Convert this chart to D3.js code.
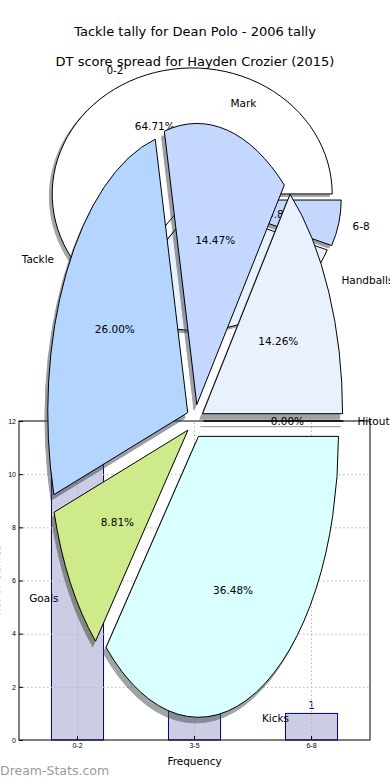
<!DOCTYPE html>
<html>
<head>
<meta charset="utf-8">
<script src="https://cdn.jsdelivr.net/npm/d3@7"></script>
<style>
  body { margin: 0; background: #fff; }
  svg { display: block; font-family: "DejaVu Sans", sans-serif; }
  .grid line { stroke: #b8b8b8; stroke-dasharray: 1.5 2.5; }
  .grid path { display: none; }
  .tick text { font-size: 7px; fill: #000; }
</style>
</head>
<body>
<div id="chart"></div>
<script>
// DT score spread (games per score bin)
const spreadBins = ["0-2", "3-5", "6-8"];
const spreadGames = [11, 5, 1];
const spreadColors = ["#ffffff", "#eaf1fe", "#c4d8ff"];

// tackle tally shares (%), pie order counter-clockwise from 3 o'clock
const statNames = ["Handballs", "Mark", "Tackle", "Goals", "Kicks", "Hitout"];
const statShares = [14.26, 14.47, 26.0, 8.81, 36.48, 0];
const statColors = ["#eaf1fe", "#c4d8ff", "#b4d5ff", "#cfea8a", "#d9ffff", "#ffffff"];

const yTicks = [0, 2, 4, 6, 8, 10, 12];

const width = 390, height = 780;
const svg = d3.select("#chart").append("svg")
  .attr("width", width)
  .attr("height", height);

//---- bar chart
const frame = { left: 19, right: 370, top: 421, bottom: 740 };
const x = d3.scaleBand()
  .domain(spreadBins)
  .range([frame.left, frame.right])
  .paddingInner(0.555)
  .paddingOuter(0.2775);
const y = d3.scaleLinear().domain([0, 12]).range([frame.bottom, frame.top]);

const bar = svg.append("g").attr("class", "bar-chart");
bar.append("rect")
  .attr("x", frame.left).attr("y", frame.top)
  .attr("width", frame.right - frame.left)
  .attr("height", frame.bottom - frame.top)
  .attr("fill", "#fff");

bar.selectAll(".bar")
  .data(spreadBins)
  .join("rect")
  .attr("class", "bar")
  .attr("x", (d) => x(d))
  .attr("width", x.bandwidth())
  .attr("y", (d, i) => y(spreadGames[i]))
  .attr("height", (d, i) => y(0) - y(spreadGames[i]))
  .attr("fill", "#ccccE4")
  .attr("stroke", "#000080")
  .attr("stroke-width", 1);

bar.selectAll(".bar-label")
  .data(spreadBins)
  .join("text")
  .attr("class", "bar-label")
  .attr("x", (d) => x(d) + x.bandwidth() / 2)
  .attr("y", (d, i) => y(spreadGames[i]) - 4)
  .attr("text-anchor", "middle")
  .attr("font-size", 10)
  .attr("fill", "#000080")
  .text((d, i) => spreadGames[i]);

// grid on top of bars
bar.append("g")
  .attr("class", "grid")
  .attr("transform", `translate(${frame.left},0)`)
  .call(d3.axisLeft(y).tickValues(yTicks.slice(1, -1)).tickSize(-(frame.right - frame.left)).tickFormat(""));
bar.append("g")
  .attr("class", "grid")
  .attr("transform", `translate(0,${frame.bottom})`)
  .call(d3.axisBottom(x).tickSize(-(frame.bottom - frame.top)).tickFormat(""));

bar.append("g")
  .attr("transform", `translate(${frame.left},0)`)
  .call(d3.axisLeft(y).tickValues(yTicks).tickSizeInner(-4).tickSizeOuter(0).tickPadding(3))
  .call((g) => g.select(".domain").remove());
bar.append("g")
  .attr("transform", `translate(0,${frame.bottom})`)
  .call(d3.axisBottom(x).tickSizeInner(-4).tickSizeOuter(0).tickPadding(3))
  .call((g) => g.select(".domain").remove());

bar.append("rect")
  .attr("x", frame.left).attr("y", frame.top)
  .attr("width", frame.right - frame.left)
  .attr("height", frame.bottom - frame.top)
  .attr("fill", "none")
  .attr("stroke", "#000")
  .attr("stroke-width", 1);

bar.append("text")
  .attr("x", (frame.left + frame.right) / 2)
  .attr("y", 765)
  .attr("text-anchor", "middle")
  .attr("font-size", 10.5)
  .text("Frequency");

// y label sits mostly off the left edge, as in the original
bar.append("text")
  .attr("transform", `translate(0,${(frame.top + frame.bottom) / 2}) rotate(-90)`)
  .attr("text-anchor", "middle")
  .attr("font-size", 10.5)
  .text("No. of Games");

//---- pies (elliptical, exploded, with shadow), matplotlib-style angles
function drawPie(names, values, colors, { cx, cy, rx, ry, explode }) {
  const pie = d3.pie()
    .sort(null)
    .startAngle(Math.PI / 2)
    .endAngle(Math.PI / 2 - 2 * Math.PI);
  const arcs = pie(values);
  const total = d3.sum(values);
  const wedge = d3.arc().innerRadius(0).outerRadius(1);
  const labelArc = d3.arc().innerRadius(1.1).outerRadius(1.1);
  const pctArc = d3.arc().innerRadius(0.6).outerRadius(0.6);

  const offset = (d) => {
    const m = (d.startAngle + d.endAngle) / 2;
    return [cx + explode * rx * Math.sin(m), cy - explode * ry * Math.cos(m)];
  };
  const shade = (c) => {
    c = d3.rgb(c);
    return d3.rgb(c.r * 0.3, c.g * 0.3, c.b * 0.3);
  };

  const g = svg.append("g");

  g.selectAll(".shadow")
    .data(arcs)
    .join("path")
    .attr("class", "shadow")
    .attr("d", wedge)
    .attr("transform", (d) => {
      const [ox, oy] = offset(d);
      return `translate(${ox - 0.02 * rx},${oy + 0.02 * ry}) scale(${rx},${ry})`;
    })
    .attr("fill", (d, i) => shade(colors[i]))
    .attr("stroke", (d, i) => shade(colors[i]))
    .attr("vector-effect", "non-scaling-stroke")
    .attr("opacity", 0.5);

  g.selectAll(".wedge")
    .data(arcs)
    .join("path")
    .attr("class", "wedge")
    .attr("d", wedge)
    .attr("transform", (d) => {
      const [ox, oy] = offset(d);
      return `translate(${ox},${oy}) scale(${rx},${ry})`;
    })
    .attr("fill", (d, i) => colors[i])
    .attr("stroke", "#000")
    .attr("stroke-width", 1)
    .attr("vector-effect", "non-scaling-stroke");

  return { g, arcs, offset, labelArc, pctArc, total, names, rx, ry };
}

function labelPie({ g, arcs, offset, labelArc, pctArc, names, rx, ry }, pctText) {
  g.selectAll(".pie-label")
    .data(arcs)
    .join("text")
    .attr("class", "pie-label")
    .each(function (d, i) {
      const [ox, oy] = offset(d);
      const [lx, ly] = labelArc.centroid(d);
      d3.select(this)
        .attr("x", ox + lx * rx)
        .attr("y", oy + ly * ry)
        .attr("text-anchor", lx > 0 ? "start" : "end")
        .text(names[i]);
    })
    .attr("dominant-baseline", "central")
    .attr("font-size", 10.5);

  g.selectAll(".pie-pct")
    .data(arcs)
    .join("text")
    .attr("class", "pie-pct")
    .each(function (d) {
      const [ox, oy] = offset(d);
      const [px, py] = pctArc.centroid(d);
      d3.select(this)
        .attr("x", ox + px * rx)
        .attr("y", oy + py * ry)
        .text(pctText(d));
    })
    .attr("text-anchor", "middle")
    .attr("dominant-baseline", "central")
    .attr("font-size", 10.5);
}

const spreadPie = drawPie(spreadBins, spreadGames, spreadColors,
  { cx: 195, cy: 199, rx: 140, ry: 126, explode: 0.045 });
labelPie(spreadPie, (d) => ((d.value / spreadPie.total) * 100).toFixed(2) + "%");

const statPie = drawPie(statNames, statShares, statColors,
  { cx: 195, cy: 421, rx: 140, ry: 281, explode: 0.06 });
// shares are already percentages
labelPie(statPie, (d) => d.value.toFixed(2) + "%");

//---- titles and watermark
svg.append("text")
  .attr("x", width / 2).attr("y", 31)
  .attr("text-anchor", "middle")
  .attr("dominant-baseline", "central")
  .attr("font-size", 13)
  .text("Tackle tally for Dean Polo - 2006 tally");
svg.append("text")
  .attr("x", width / 2).attr("y", 61)
  .attr("text-anchor", "middle")
  .attr("dominant-baseline", "central")
  .attr("font-size", 13)
  .text("DT score spread for Hayden Crozier (2015)");

svg.append("text")
  .attr("x", 0).attr("y", 775)
  .attr("font-size", 12.5)
  .attr("fill", "#9a9a9a")
  .text("Dream-Stats.com");
</script>
</body>
</html>
